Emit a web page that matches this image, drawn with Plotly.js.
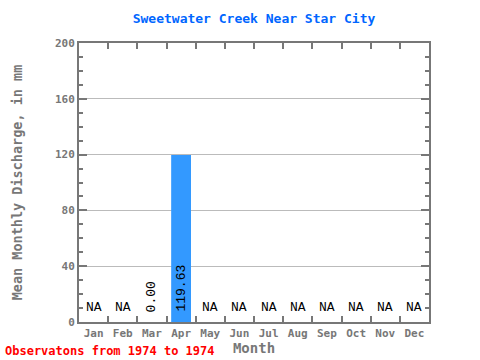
<!DOCTYPE html>
<html>
<head>
<meta charset="utf-8">
<script src="https://cdn.plot.ly/plotly-3.0.1.min.js"></script>
<style>html,body{margin:0;padding:0;background:#fff;}#chart{width:480px;height:360px;}</style>
</head>
<body>
<div id="chart"></div>
<script>
var months = ["Jan","Feb","Mar","Apr","May","Jun","Jul","Aug","Sep","Oct","Nov","Dec"];
var discharge = [null, null, 0.00, 119.63, null, null, null, null, null, null, null, null];
var valueLabels = ["NA","NA","0.00","119.63","NA","NA","NA","NA","NA","NA","NA","NA"];
var yTicks = [0, 40, 80, 120, 160, 200];

var font = "DejaVu Sans Mono, Liberation Mono, monospace";
var gray = "#777777";

var annotations = [];
for (var i = 0; i < months.length; i++) {
  if (discharge[i] === null) {
    annotations.push({x: months[i], y: 0, xref: "x", yref: "y", text: valueLabels[i],
      showarrow: false, yanchor: "bottom", yshift: 5,
      font: {family: "Liberation Mono, monospace", size: 13, color: "#000"}});
  } else {
    annotations.push({x: months[i], y: 0, xref: "x", yref: "y", text: valueLabels[i],
      showarrow: false, textangle: -90, yanchor: "bottom", yshift: 8,
      font: {family: "Liberation Mono, monospace", size: 13, color: "#000"}});
  }
}
annotations.push({x: 0, y: 0, xref: "paper", yref: "paper", xanchor: "left", yanchor: "bottom",
  xshift: -76, yshift: -38, text: "<b>Observatons from 1974 to 1974</b>", showarrow: false,
  font: {family: font, size: 12, color: "#ff0000"}});

var data = [{
  type: "bar", x: months, y: discharge,
  marker: {color: "#3399ff"}, width: 0.68, hoverinfo: "x+y"
}];

var layout = {
  width: 480, height: 360,
  margin: {l: 79, r: 51, t: 43, b: 38},
  paper_bgcolor: "#fff", plot_bgcolor: "#fff",
  showlegend: false,
  title: {text: "<b>Sweetwater Creek Near Star City</b>", xref: "paper", x: 0.5, xanchor: "center", y: 0.95, yanchor: "middle",
    font: {family: font, size: 13, color: "#0066ff"}},
  xaxis: {
    type: "category", categoryorder: "array", categoryarray: months,
    range: [-0.5, 11.5], tickson: "boundaries", tickangle: 0,
    ticks: "inside", ticklen: 6, tickwidth: 2, tickcolor: gray,
    showline: true, linecolor: gray, linewidth: 2, mirror: "allticks",
    showgrid: false,
    tickfont: {family: font, size: 11, color: gray, weight: "bold"},
    title: {text: "<b>Month</b>", font: {family: font, size: 14, color: gray}, standoff: 2}
  },
  yaxis: {
    range: [0, 200], tickvals: yTicks, ticktext: yTicks.map(String),
    ticks: "inside", ticklen: 8, tickwidth: 2, tickcolor: gray,
    minor: {dtick: 10, ticks: "inside", ticklen: 4, tickwidth: 2, tickcolor: gray, showgrid: false},
    showline: true, linecolor: gray, linewidth: 2, mirror: "allticks",
    showgrid: true, gridcolor: "#bbbbbb", gridwidth: 1, zeroline: false,
    tickfont: {family: font, size: 11, color: gray, weight: "bold"},
    title: {text: "<b>Mean Monthly Discharge, in mm</b>", font: {family: font, size: 13.5, color: gray}, standoff: 29}
  },
  annotations: annotations
};

Plotly.newPlot("chart", data, layout, {displayModeBar: false, staticPlot: true});
</script>
</body>
</html>
